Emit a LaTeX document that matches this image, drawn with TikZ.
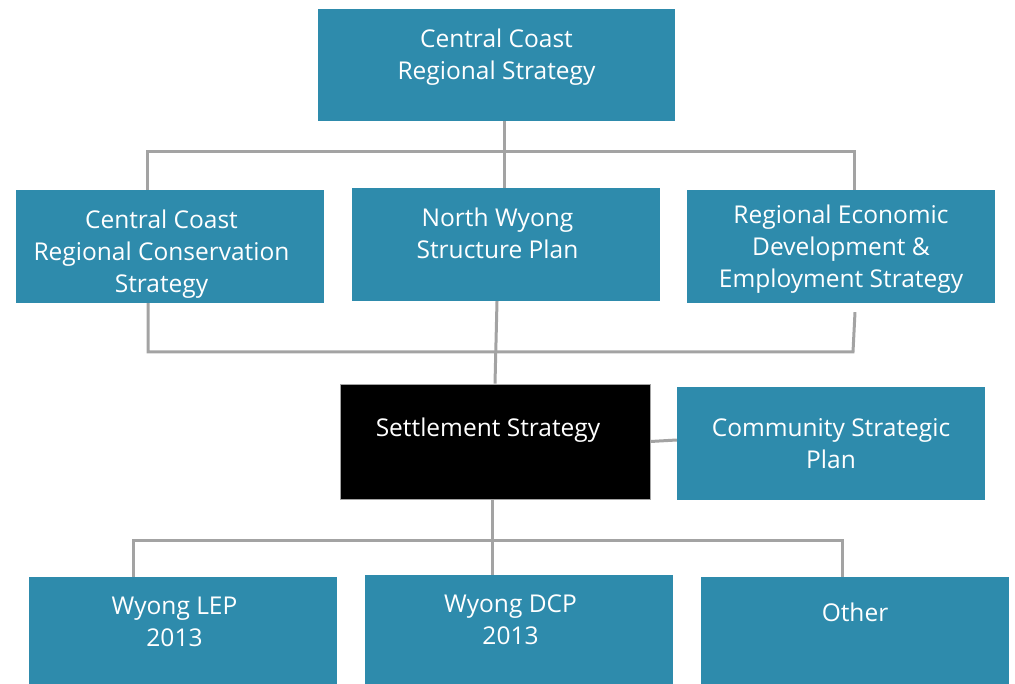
\documentclass[tikz,border=0pt]{standalone}
\usepackage{fontspec}
\setmainfont{Open Sans}
\usepackage{xcolor}
\usepackage{tikz}
\usetikzlibrary{positioning}
\definecolor{PlanTeal}{HTML}{2E8BAC}
\definecolor{PlanGrey}{HTML}{A3A3A3}
\newcommand{\nudge}{\hspace*{-17pt}}

\begin{document}
\begin{tikzpicture}[
  x=1pt,
  y=-1pt,
  font=\fontsize{24.5}{32}\selectfont,
  box/.style={
    fill=PlanTeal,
    text=white,
    align=center,
    inner sep=2pt,
    minimum width=308pt,
    minimum height=113pt
  },
  lift/.style={text depth=#1},
  settlebox/.style={box, fill=black, draw=PlanGrey, line width=0.8pt, minimum width=310pt, minimum height=115pt},
  link/.style={draw=PlanGrey, line width=3pt}
]
\useasboundingbox (0,0) rectangle (1015,684);

\node[box, minimum width=357pt, minimum height=112pt, lift=21pt] (top) at (496.5,65) {Central Coast\\Regional Strategy};

\node[box, lift=0pt] (cons) at (170,246.5) {\rule{0pt}{27.5pt}\nudge Central Coast\\\nudge Regional Conservation\\\nudge Strategy};
\node[box, lift=23pt] (nws) at (506,244.5) {\nudge North Wyong\\\nudge Structure Plan};
\node[box, lift=0pt] (reed) at (841,246.5) {Regional Economic\\Development \&\\Employment Strategy};

\node[settlebox, lift=28pt] (settle) at (495,441.5) {\hspace*{-14pt}Settlement Strategy};
\node[box] (csp) at (831,443.5) {Community Strategic\\Plan};

\node[box, minimum height=107pt, lift=17pt] (lep) at (183,630.5) {\nudge Wyong LEP\\\nudge 2013};
\node[box, minimum height=109pt, lift=19pt] (dcp) at (519,629.5) {\nudge Wyong DCP\\\nudge 2013};
\node[box, minimum height=107pt, lift=37pt] (other) at (855,630.5) {Other};

% top level to second row
\coordinate (j1l) at (147,152);
\coordinate (j1m) at (504,152);
\coordinate (j1r) at (854,152);
\draw[link] (j1m |- top.south) -- (j1m |- nws.north);
\draw[link] (j1l |- cons.north) -- (j1l) -- (j1r) -- (j1r |- reed.north);

% second row to settlement strategy
\coordinate (j2l) at (148,352);
\coordinate (j2r) at (853,352);
\draw[link] (j2l |- cons.south) -- (j2l) -- (j2r) -- ([xshift=14pt,yshift=-9pt]reed.south);
\draw[link] ([xshift=-9pt]nws.south) -- (settle.north);
\draw[link] (settle.east) -- ([yshift=3.5pt]csp.west);

% settlement strategy to bottom row
\coordinate (j3l) at (133,540);
\coordinate (j3m) at (492,540);
\coordinate (j3r) at (842,540);
\draw[link] (j3m |- settle.south) -- (j3m |- dcp.north);
\draw[link] (j3l |- lep.north) -- (j3l) -- (j3r) -- (j3r |- other.north);
\end{tikzpicture}
\end{document}
